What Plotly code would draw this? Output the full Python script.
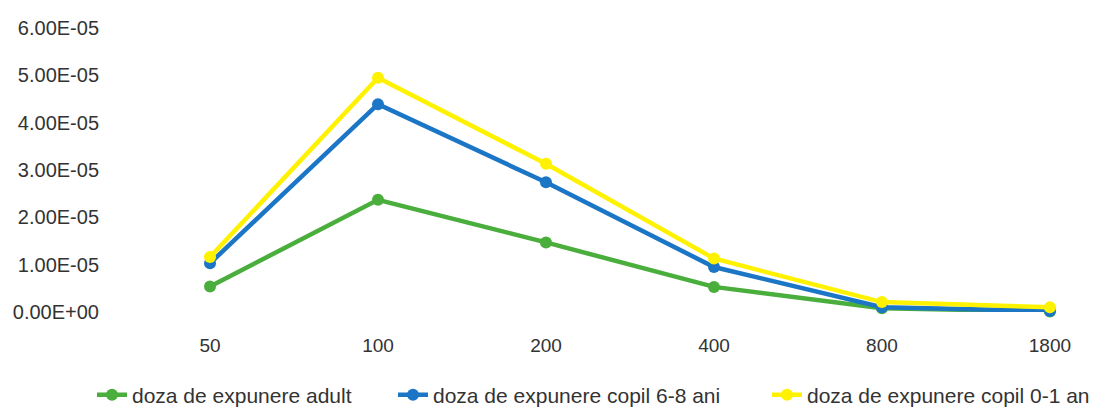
import plotly.graph_objects as go

# Exposure dose by distance category
categories = ["50", "100", "200", "400", "800", "1800"]
adult = [0.54e-5, 2.37e-5, 1.47e-5, 0.53e-5, 0.08e-5, 0.01e-5]
child_6_8 = [1.03e-5, 4.39e-5, 2.74e-5, 0.95e-5, 0.10e-5, 0.02e-5]
child_0_1 = [1.16e-5, 4.95e-5, 3.13e-5, 1.13e-5, 0.21e-5, 0.10e-5]

series_names = [
    "doza de expunere adult",
    "doza de expunere copil 6-8 ani",
    "doza de expunere copil 0-1 an",
]
y_tick_vals = [0, 1e-5, 2e-5, 3e-5, 4e-5, 5e-5, 6e-5]
y_tick_text = ["0.00E+00", "1.00E-05", "2.00E-05", "3.00E-05", "4.00E-05", "5.00E-05", "6.00E-05"]

colors = ["#4aae3c", "#1c76c6", "#fff200"]
font_family = "Liberation Sans, Arial, sans-serif"
text_color = "#333333"

# one legend box per series so the entries can be spaced out along the bottom
legend_ids = ["legend", "legend2", "legend3"]
legend_left_px = [92, 393, 767]

fig = go.Figure()
for name, vals, col, lg in zip(series_names, [adult, child_6_8, child_0_1], colors, legend_ids):
    fig.add_trace(go.Scatter(
        x=categories, y=vals, name=name, mode="lines+markers",
        line=dict(color=col, width=4.5),
        marker=dict(color=col, size=12),
        cliponaxis=False, legend=lg,
    ))

legend_common = dict(
    orientation="h", xref="container", xanchor="left",
    yref="container", y=0.034, yanchor="middle",
    font=dict(family=font_family, size=21, color=text_color),
    bgcolor="rgba(0,0,0,0)", borderwidth=0,
)
legend_layout = {
    lg: dict(legend_common, x=px / 1100)
    for lg, px in zip(legend_ids, legend_left_px)
}

fig.update_layout(
    width=1100, height=409,
    margin=dict(l=124, r=0, t=28, b=97),
    paper_bgcolor="white", plot_bgcolor="white",
    font=dict(family=font_family, size=18, color=text_color),
    showlegend=True,
    xaxis=dict(
        type="category", range=[-0.512, 5.298],
        showgrid=False, zeroline=False, showline=False,
        ticks="outside", ticklen=16, tickcolor="rgba(0,0,0,0)",
        tickfont=dict(size=19),
    ),
    yaxis=dict(
        range=[0, 6e-5], tickvals=y_tick_vals, ticktext=y_tick_text,
        showgrid=False, zeroline=False, showline=False,
        ticks="outside", ticklen=20, tickcolor="rgba(0,0,0,0)",
        tickfont=dict(size=20),
    ),
    **legend_layout,
)

fig.write_html("out.html")
